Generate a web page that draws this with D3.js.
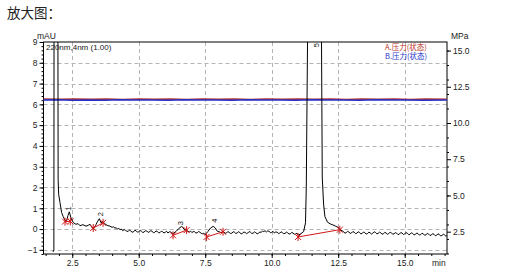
<!DOCTYPE html>
<html>
<head>
<meta charset="utf-8">
<script src="https://cdn.jsdelivr.net/npm/d3@7"></script>
<style>
    body { margin: 0; background: #fff; }
    svg { display: block; font-family: "Liberation Sans", Arial, sans-serif; }
</style>
</head>
<body>
<div id="chart"></div>
<script>
// Chromatogram 220nm trace, [min, mAU]
const uvTrace = [
    [1.78, -1.1], [1.81, -1.0], [1.83, 30], [1.90, 40], [1.95, 20], [1.97, 2.4],
    [1.99, 1.67], [2.04, 1.28], [2.10, 0.8], [2.16, 0.6], [2.23, 0.42], [2.29, 0.4],
    [2.34, 0.65], [2.39, 0.83], [2.45, 0.55], [2.54, 0.31], [2.64, 0.23], [2.72, 0.26],
    [2.79, 0.16], [2.90, 0.21], [3.02, 0.14], [3.10, 0.18], [3.17, 0.23], [3.23, 0.1],
    [3.29, 0.0], [3.35, 0.12], [3.39, 0.21], [3.46, 0.38], [3.52, 0.5], [3.58, 0.31],
    [3.66, 0.35], [3.72, 0.26], [3.77, 0.21], [3.85, 0.16], [3.92, 0.14], [4.0, 0.08],
    [4.05, 0.11], [4.11, 0.04], [4.15, 0.07], [4.2, 0.0], [4.25, 0.03], [4.3, -0.03],
    [4.35, 0.0], [4.4, -0.08], [4.45, -0.02], [4.5, -0.06], [4.55, -0.1], [4.6, -0.12],
    [4.65, -0.05], [4.7, -0.09], [4.75, -0.15], [4.8, -0.14], [4.85, -0.06], [4.9, -0.08],
    [4.95, -0.15], [5.0, -0.13], [5.05, -0.07], [5.1, -0.10], [5.15, -0.16], [5.2, -0.15],
    [5.25, -0.08], [5.3, -0.09], [5.35, -0.16], [5.4, -0.14], [5.45, -0.07], [5.5, -0.11],
    [5.55, -0.17], [5.6, -0.16], [5.65, -0.09], [5.7, -0.12], [5.75, -0.18], [5.8, -0.17],
    [5.85, -0.1], [5.9, -0.13], [5.95, -0.19], [6.0, -0.15], [6.05, -0.11], [6.1, -0.19],
    [6.15, -0.13], [6.2, -0.14], [6.25, -0.2], [6.3, -0.21], [6.4, -0.12],
    [6.5, 0.02], [6.6, 0.12], [6.65, 0.1], [6.7, 0.0], [6.8, -0.08], [6.9, -0.14],
    [6.95, -0.1], [7.0, -0.17], [7.05, -0.12], [7.1, -0.13], [7.15, -0.19], [7.2, -0.18],
    [7.25, -0.12], [7.3, -0.15], [7.35, -0.21], [7.4, -0.22], [7.45, -0.2], [7.5, -0.27],
    [7.6, -0.12], [7.7, 0.05], [7.8, 0.13], [7.88, 0.05], [7.95, -0.1], [8.05, -0.14],
    [8.1, -0.18], [8.15, -0.12], [8.2, -0.14], [8.25, -0.2], [8.3, -0.19], [8.35, -0.12],
    [8.4, -0.16], [8.45, -0.21], [8.5, -0.2], [8.55, -0.13], [8.6, -0.15], [8.65, -0.21],
    [8.7, -0.19], [8.75, -0.13], [8.8, -0.17], [8.85, -0.23], [8.9, -0.21], [8.95, -0.14],
    [9.0, -0.16], [9.05, -0.22], [9.1, -0.19], [9.15, -0.12], [9.2, -0.15], [9.25, -0.21],
    [9.3, -0.2], [9.35, -0.14], [9.4, -0.17], [9.45, -0.23], [9.5, -0.21], [9.55, -0.14],
    [9.6, -0.16], [9.65, -0.1], [9.7, -0.12], [9.75, -0.08], [9.8, -0.14], [9.85, -0.09],
    [9.9, -0.11], [9.95, -0.17], [10.0, -0.16], [10.05, -0.11], [10.1, -0.19], [10.15, -0.14],
    [10.2, -0.15], [10.25, -0.21], [10.3, -0.2], [10.35, -0.13], [10.4, -0.17], [10.45, -0.22],
    [10.5, -0.21], [10.55, -0.15], [10.6, -0.18], [10.65, -0.24], [10.7, -0.23], [10.75, -0.16],
    [10.8, -0.19], [10.85, -0.25], [10.9, -0.24], [10.95, -0.2], [11.0, -0.3],
    [11.1, -0.22], [11.2, -0.12], [11.27, 0.3], [11.3, 2.0], [11.35, 9.5], [11.6, 40],
    [11.87, 9.5], [11.9, 2.5], [11.95, 1.2], [12.0, 0.6], [12.1, 0.33], [12.2, 0.25],
    [12.3, 0.2], [12.4, 0.14], [12.5, 0.08], [12.6, -0.05], [12.7, -0.12], [12.75, -0.2],
    [12.8, -0.17], [12.85, -0.11], [12.9, -0.14], [12.95, -0.21], [13.0, -0.19], [13.05, -0.12],
    [13.1, -0.15], [13.15, -0.22], [13.2, -0.2], [13.25, -0.13], [13.3, -0.16], [13.35, -0.23],
    [13.4, -0.21], [13.45, -0.14], [13.5, -0.17], [13.55, -0.24], [13.6, -0.22], [13.65, -0.15],
    [13.7, -0.18], [13.75, -0.24], [13.8, -0.2], [13.85, -0.13], [13.9, -0.16], [13.95, -0.23],
    [14.0, -0.21], [14.05, -0.15], [14.1, -0.18], [14.15, -0.25], [14.2, -0.23], [14.25, -0.16],
    [14.3, -0.19], [14.35, -0.25], [14.4, -0.22], [14.45, -0.15], [14.5, -0.18], [14.55, -0.25],
    [14.6, -0.23], [14.65, -0.17], [14.7, -0.2], [14.75, -0.27], [14.8, -0.24], [14.85, -0.17],
    [14.9, -0.19], [14.95, -0.26], [15.0, -0.23], [15.05, -0.17], [15.1, -0.2], [15.15, -0.27],
    [15.2, -0.25], [15.25, -0.18], [15.3, -0.21], [15.35, -0.28], [15.4, -0.26], [15.45, -0.19],
    [15.5, -0.22], [15.55, -0.29], [15.6, -0.27], [15.65, -0.2], [15.7, -0.23], [15.75, -0.3],
    [15.8, -0.27], [15.85, -0.21], [15.9, -0.24], [15.95, -0.31], [16.0, -0.29], [16.05, -0.22],
    [16.1, -0.25], [16.15, -0.32], [16.2, -0.3], [16.25, -0.23], [16.3, -0.26], [16.35, -0.33],
    [16.4, -0.31], [16.45, -0.25], [16.5, -0.28], [16.55, -0.34], [16.6, -0.32]
];

// Pressure traces, [min, MPa]
const pressureA = [
    [1.4, 11.65], [2.0, 11.64], [2.6, 11.66], [3.2, 11.64], [3.8, 11.65], [4.4, 11.63],
    [5.0, 11.66], [5.6, 11.64], [6.2, 11.65], [6.8, 11.63], [7.4, 11.66], [8.0, 11.64],
    [8.6, 11.65], [9.2, 11.63], [9.8, 11.65], [10.4, 11.64], [11.0, 11.66], [11.6, 11.64],
    [12.2, 11.65], [12.8, 11.63], [13.4, 11.66], [14.0, 11.64], [14.6, 11.65], [15.2, 11.63],
    [15.8, 11.65], [16.6, 11.64]
];
const pressureB = [
    [1.4, 11.58], [1.9, 11.6], [2.5, 11.57], [3.1, 11.59], [3.7, 11.57], [4.3, 11.6],
    [4.9, 11.58], [5.5, 11.59], [6.1, 11.57], [6.7, 11.6], [7.3, 11.58], [7.9, 11.59],
    [8.5, 11.57], [9.1, 11.6], [9.7, 11.58], [10.3, 11.59], [10.9, 11.57], [11.5, 11.6],
    [12.1, 11.58], [12.7, 11.59], [13.3, 11.57], [13.9, 11.6], [14.5, 11.58], [15.1, 11.59],
    [15.7, 11.57], [16.6, 11.59]
];

// Peak numbers and where the label sits, [min, mAU]
const peakLabels = [
    { name: '1', t: 2.44, v: 0.88 },
    { name: '2', t: 3.64, v: 0.62 },
    { name: '3', t: 6.65, v: 0.18 },
    { name: '4', t: 7.95, v: 0.3 },
    { name: '5', t: 11.78, v: 8.75 }
];

// Integration baselines: start and end point of each peak
const integrations = [
    [[2.23, 0.36], [2.43, 0.37]],
    [[3.29, 0.05], [3.66, 0.3]],
    [[6.29, -0.3], [6.80, -0.05]],
    [[7.55, -0.38], [8.17, -0.13]],
    [[10.99, -0.38], [12.56, -0.03]]
];

const xTicks = [2.5, 5.0, 7.5, 10.0, 12.5, 15.0];
const yLeftTicks = [-1, 0, 1, 2, 3, 4, 5, 6, 7, 8, 9];
const yRightTicks = [2.5, 5.0, 7.5, 10.0, 12.5, 15.0];
const legendItems = [
    { name: 'A.压力(状态)', color: '#b8322a' },
    { name: 'B.压力(状态)', color: '#2530c8' }
];

const width = 507, height = 276;
const plot = { left: 43.5, right: 447, top: 42, bottom: 254 };

const svg = d3.select('#chart').append('svg')
    .attr('width', width)
    .attr('height', height);

svg.append('rect').attr('width', width).attr('height', height).attr('fill', '#fff');

svg.append('text')
    .attr('x', 7).attr('y', 18)
    .attr('font-family', '"Noto Sans CJK SC", sans-serif')
    .attr('font-size', 13.5)
    .attr('fill', '#222')
    .text('放大图：');

const x = d3.scaleLinear().domain([1.42, 16.59]).range([plot.left, plot.right]);
const y = d3.scaleLinear().domain([-1.2, 9.0]).range([plot.bottom, plot.top]);
const yR = d3.scaleLinear().domain([0.96, 15.59]).range([plot.bottom, plot.top]);

// grid
const grid = svg.append('g')
    .attr('stroke', '#b4b4b4')
    .attr('stroke-dasharray', '4,3')
    .attr('stroke-width', 1);
grid.selectAll('.gx').data(xTicks).enter().append('line')
    .attr('x1', d => Math.round(x(d)) + 0.5).attr('x2', d => Math.round(x(d)) + 0.5)
    .attr('y1', plot.top).attr('y2', plot.bottom);
grid.selectAll('.gy').data(yLeftTicks.filter(d => d < 9)).enter().append('line')
    .attr('x1', plot.left).attr('x2', plot.right)
    .attr('y1', d => Math.round(y(d)) + 0.5).attr('y2', d => Math.round(y(d)) + 0.5);

// axes
function styleAxis(g) {
    g.select('.domain').remove();
    g.selectAll('line').attr('stroke', '#000');
    g.selectAll('text').attr('fill', '#222').attr('font-size', 8.5)
        .attr('font-family', '"Liberation Sans", Arial, sans-serif');
}

svg.append('g').attr('transform', `translate(0,${plot.bottom})`)
    .call(d3.axisBottom(x).tickValues(d3.range(1.5, 16.6, 0.5)).tickSize(2).tickFormat(''))
    .call(styleAxis);
svg.append('g').attr('transform', `translate(0,${plot.bottom})`)
    .call(d3.axisBottom(x).tickValues(xTicks).tickSize(4).tickPadding(2).tickFormat(d3.format('.1f')))
    .call(styleAxis);

svg.append('g').attr('transform', `translate(${plot.left},0)`)
    .call(d3.axisLeft(y).tickValues(d3.range(-1.2, 9.01, 0.2)).tickSize(2).tickFormat(''))
    .call(styleAxis);
svg.append('g').attr('transform', `translate(${plot.left},0)`)
    .call(d3.axisLeft(y).tickValues(yLeftTicks).tickSize(4).tickPadding(2).tickFormat(d3.format('d')))
    .call(styleAxis);

svg.append('g').attr('transform', `translate(${plot.right},0)`)
    .call(d3.axisRight(yR).tickValues(d3.range(1, 15.6, 1)).tickSize(2).tickFormat(''))
    .call(styleAxis);
svg.append('g').attr('transform', `translate(${plot.right},0)`)
    .call(d3.axisRight(yR).tickValues(yRightTicks).tickSize(4).tickPadding(2).tickFormat(d3.format('.1f')))
    .call(styleAxis);

// axis titles
const titles = svg.append('g').attr('font-size', 8.5).attr('fill', '#222');
titles.append('text').attr('x', 37).attr('y', 39).text('mAU');
titles.append('text').attr('x', 451).attr('y', 39).text('MPa');
titles.append('text').attr('x', 432).attr('y', 266).text('min');

// frame
svg.append('rect')
    .attr('x', plot.left).attr('y', plot.top)
    .attr('width', plot.right - plot.left).attr('height', plot.bottom - plot.top)
    .attr('fill', 'none').attr('stroke', '#000').attr('stroke-width', 1);

svg.append('clipPath').attr('id', 'clip').append('rect')
    .attr('x', plot.left).attr('y', plot.top)
    .attr('width', plot.right - plot.left).attr('height', plot.bottom - plot.top);

const body = svg.append('g').attr('clip-path', 'url(#clip)');

const lineL = d3.line().x(d => x(d[0])).y(d => y(d[1]));
const lineR = d3.line().x(d => x(d[0])).y(d => yR(d[1]));

body.append('path').datum(pressureA)
    .attr('d', lineR).attr('fill', 'none')
    .attr('stroke', legendItems[0].color).attr('stroke-width', 1.5);
body.append('path').datum(pressureB)
    .attr('d', lineR).attr('fill', 'none')
    .attr('stroke', legendItems[1].color).attr('stroke-width', 1.5);

body.append('path').datum(uvTrace)
    .attr('d', lineL).attr('fill', 'none')
    .attr('stroke', '#000').attr('stroke-width', 1);

// integration marks
const integ = body.append('g').attr('stroke', '#d01818').attr('stroke-width', 1).attr('fill', 'none');
integ.selectAll('.base').data(integrations).enter().append('path')
    .attr('d', lineL);
const marks = integrations.flat();
integ.selectAll('.mark').data(marks).enter().append('path')
    .attr('transform', d => `translate(${x(d[0])},${y(d[1])})`)
    .attr('d', 'M0,-4V4M-3,-3L3,3M-3,3L3,-3');

// peak numbers
body.selectAll('.plabel').data(peakLabels).enter().append('text')
    .attr('transform', d => `translate(${x(d.t)},${y(d.v)}) rotate(-90)`)
    .attr('font-size', 7.5).attr('fill', '#111')
    .attr('text-anchor', 'start')
    .text(d => d.name);

// detector note
svg.append('text')
    .attr('x', 46).attr('y', 50)
    .attr('font-size', 8).attr('fill', '#222')
    .text('220nm,4nm (1.00)');

// legend
svg.append('g').selectAll('text').data(legendItems).enter().append('text')
    .attr('x', 385).attr('y', (d, i) => 49.5 + i * 9.5)
    .attr('font-family', '"Noto Sans CJK SC", sans-serif')
    .attr('font-size', 7.5)
    .attr('fill', d => d.color)
    .text(d => d.name);
</script>
</body>
</html>
